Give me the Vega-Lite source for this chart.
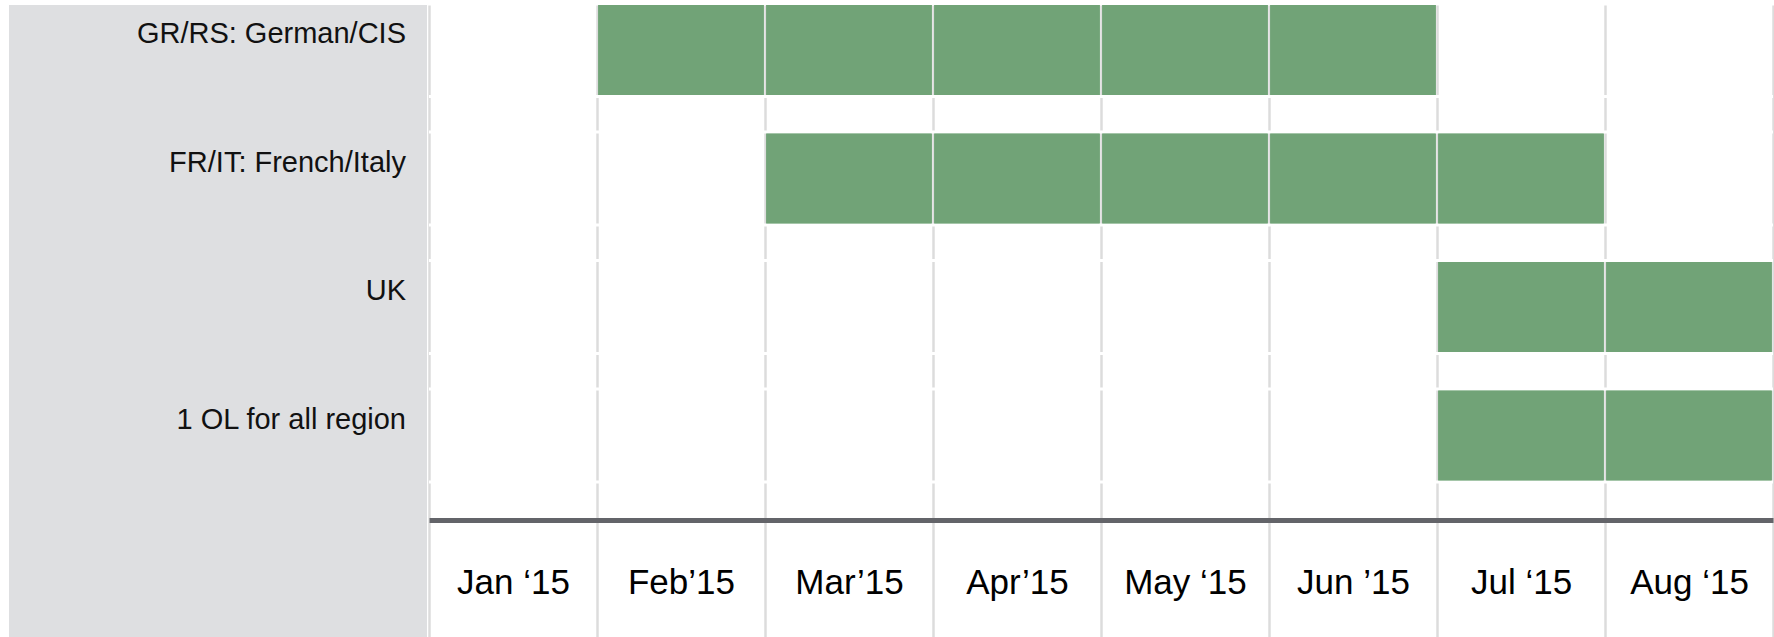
{
  "$schema": "https://vega.github.io/schema/vega-lite/v6.json",
  "padding": {"left": 9, "top": 5, "right": 3, "bottom": 0},
  "background": "white",
  "config": {"view": {"stroke": null}, "font": "Liberation Sans"},
  "datasets": {
    "tasks": [
      {"task": "GR/RS: German/CIS"},
      {"task": "FR/IT: French/Italy"},
      {"task": "UK"},
      {"task": "1 OL for all region"}
    ],
    "cells": [
      {"task": "GR/RS: German/CIS", "month": "Feb", "start": 1, "end": 2},
      {"task": "GR/RS: German/CIS", "month": "Mar", "start": 2, "end": 3},
      {"task": "GR/RS: German/CIS", "month": "Apr", "start": 3, "end": 4},
      {"task": "GR/RS: German/CIS", "month": "May", "start": 4, "end": 5},
      {"task": "GR/RS: German/CIS", "month": "Jun", "start": 5, "end": 6},
      {"task": "FR/IT: French/Italy", "month": "Mar", "start": 2, "end": 3},
      {"task": "FR/IT: French/Italy", "month": "Apr", "start": 3, "end": 4},
      {"task": "FR/IT: French/Italy", "month": "May", "start": 4, "end": 5},
      {"task": "FR/IT: French/Italy", "month": "Jun", "start": 5, "end": 6},
      {"task": "FR/IT: French/Italy", "month": "Jul", "start": 6, "end": 7},
      {"task": "UK", "month": "Jul", "start": 6, "end": 7},
      {"task": "UK", "month": "Aug", "start": 7, "end": 8},
      {"task": "1 OL for all region", "month": "Jul", "start": 6, "end": 7},
      {"task": "1 OL for all region", "month": "Aug", "start": 7, "end": 8}
    ]
  },
  "spacing": 0,
  "hconcat": [
    {
      "width": 418,
      "height": 632,
      "view": {"fill": "#dedfe1", "stroke": null},
      "data": {"name": "tasks"},
      "mark": {"type": "text", "align": "right", "baseline": "alphabetic", "dx": -21, "dy": 38, "fontSize": 29, "font": "Liberation Sans", "color": "#111111"},
      "encoding": {
        "x": {"value": "width"},
        "y": {"field": "task", "type": "nominal", "bandPosition": 0, "axis": null,
              "scale": {"type": "band", "domain": ["GR/RS: German/CIS", "FR/IT: French/Italy", "UK", "1 OL for all region"], "paddingInner": 0.3, "paddingOuter": 0.609, "align": 0}},
        "text": {"field": "task"}
      }
    },
    {
      "width": 1344,
      "height": 632,
      "encoding": {
        "y": {"field": "task", "type": "nominal", "axis": null,
              "scale": {"type": "band", "domain": ["GR/RS: German/CIS", "FR/IT: French/Italy", "UK", "1 OL for all region"], "paddingInner": 0.3, "paddingOuter": 0.609, "align": 0}}
      },
      "layer": [
        {
          "data": {"name": "cells"},
          "mark": {"type": "bar", "color": "#71a377", "xOffset": 1.25, "x2Offset": -1.25},
          "encoding": {
            "x": {"field": "start", "type": "quantitative",
                  "scale": {"domain": [0, 8], "nice": false, "zero": false},
                  "axis": {
                    "orient": "bottom", "offset": -117, "values": [0, 1, 2, 3, 4, 5, 6, 7, 8],
                    "grid": true, "gridColor": "#dcdcdc", "gridWidth": 2.5,
                    "ticks": false, "domain": true, "domainColor": "#636469", "domainWidth": 5,
                    "labelExpr": "['Jan ‘15','Feb’15','Mar’15','Apr’15','May ‘15','Jun ’15','Jul ‘15','Aug ‘15',''][datum.value]",
                    "labelOffset": 84, "labelPadding": 73, "labelBaseline": "alphabetic", "labelAlign": "center",
                    "labelFontSize": 35, "labelFont": "Liberation Sans", "labelColor": "#000000",
                    "labelFlush": false, "labelOverlap": false, "labelBound": false, "title": null
                  }},
            "x2": {"field": "end"}
          }
        },
        {
          "data": {"name": "tasks"},
          "transform": [{"filter": "datum.task != 'GR/RS: German/CIS'"}],
          "mark": {"type": "rule", "color": "white", "strokeWidth": 3, "yOffset": -1.5},
          "encoding": {
            "y": {"field": "task", "type": "nominal", "bandPosition": 0}
          }
        },
        {
          "data": {"name": "tasks"},
          "mark": {"type": "rule", "color": "white", "strokeWidth": 3, "yOffset": 1.5},
          "encoding": {
            "y": {"field": "task", "type": "nominal", "bandPosition": 1}
          }
        },
        {
          "data": {"name": "cells"},
          "mark": {"type": "bar", "color": "#71a377", "xOffset": 1.25, "x2Offset": -1.25},
          "encoding": {
            "x": {"field": "start", "type": "quantitative"},
            "x2": {"field": "end"}
          }
        }
      ]
    }
  ]
}
